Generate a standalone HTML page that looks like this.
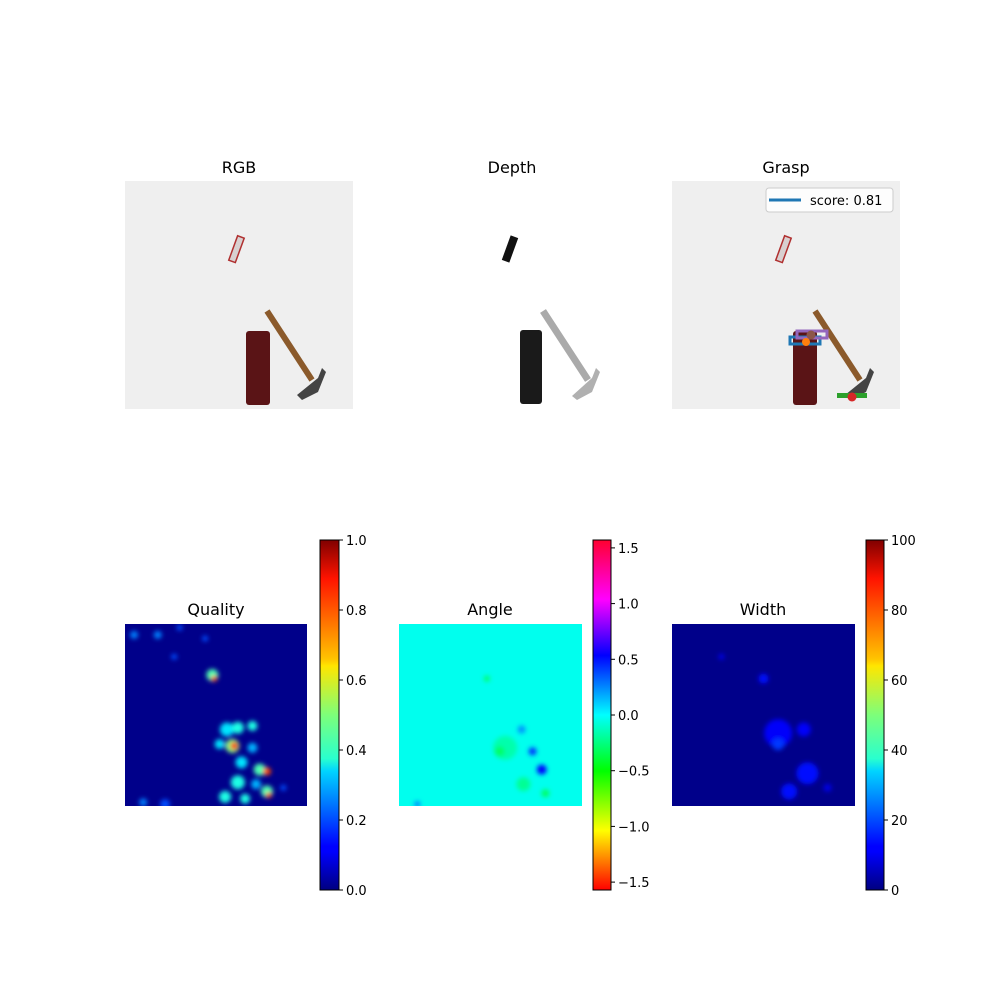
<!DOCTYPE html>
<html><head><meta charset="utf-8"><style>
body{margin:0;background:#fff;font-family:"Liberation Sans","DejaVu Sans",sans-serif}
svg text{font-family:"DejaVu Sans","Liberation Sans",sans-serif}
</style></head><body>
<svg id="fig" width="1000" height="1000" viewBox="0 0 1000 1000" xmlns="http://www.w3.org/2000/svg">
<defs>
<linearGradient id="jet" x1="0" y1="1" x2="0" y2="0">
<stop offset="0" stop-color="#000080"/><stop offset="0.11" stop-color="#0000ff"/><stop offset="0.125" stop-color="#0000ff"/>
<stop offset="0.34" stop-color="#00d4ff"/><stop offset="0.375" stop-color="#29ffce"/><stop offset="0.5" stop-color="#7dff7a"/>
<stop offset="0.64" stop-color="#ffe600"/><stop offset="0.66" stop-color="#ffc400"/><stop offset="0.89" stop-color="#ff1300"/><stop offset="1" stop-color="#800000"/>
</linearGradient>
<linearGradient id="hsv" x1="0" y1="1" x2="0" y2="0">
<stop offset="0" stop-color="#ff0000"/><stop offset="0.17" stop-color="#ffff00"/><stop offset="0.34" stop-color="#00ff00"/>
<stop offset="0.5" stop-color="#00ffff"/><stop offset="0.67" stop-color="#0000ff"/><stop offset="0.83" stop-color="#ff00ff"/><stop offset="1" stop-color="#ff0030"/>
</linearGradient>
<filter id="blur" x="-20%" y="-20%" width="140%" height="140%"><feGaussianBlur stdDeviation="2.5"/></filter>
<clipPath id="cq"><rect x="125" y="624" width="182" height="182"/></clipPath>
<clipPath id="ca"><rect x="399" y="624" width="183" height="182"/></clipPath>
<clipPath id="cw"><rect x="672" y="624" width="183" height="182"/></clipPath>
</defs>

<!-- Top row -->
<text x="239" y="173" font-size="16" text-anchor="middle">RGB</text>
<g>
<rect x="125" y="181" width="228" height="228" fill="#efefef"/>
<rect x="233" y="236" width="7" height="26" fill="#d8d0d0" stroke="#b03030" stroke-width="1.5" transform="rotate(20 236 249)"/>
<rect x="246" y="331" width="24" height="74" fill="#5a1416" rx="3"/>
<line x1="267" y1="311" x2="312" y2="380" stroke="#8b5a2b" stroke-width="6"/>
<path d="M297 395 L318 378 L322 368 L326 372 L318 392 L302 400 Z" fill="#444"/>
</g>
<text x="512" y="173" font-size="16" text-anchor="middle">Depth</text>
<g>
<rect x="506" y="236" width="8" height="26" fill="#111" transform="rotate(20 510 249)"/>
<rect x="520" y="330" width="22" height="74" fill="#1a1a1a" rx="3"/>
<line x1="543" y1="311" x2="588" y2="380" stroke="#aaa" stroke-width="7"/>
<path d="M572 396 L592 378 L596 368 L600 372 L592 392 L577 400 Z" fill="#b0b0b0"/>
</g>
<text x="786" y="173" font-size="16" text-anchor="middle">Grasp</text>
<g>
<rect x="672" y="181" width="228" height="228" fill="#efefef"/>
<rect x="780" y="236" width="7" height="26" fill="#d8d0d0" stroke="#b03030" stroke-width="1.5" transform="rotate(20 783 249)"/>
<rect x="793" y="331" width="24" height="74" fill="#5a1416" rx="3"/>
<line x1="815" y1="311" x2="860" y2="380" stroke="#8b5a2b" stroke-width="6"/>
<path d="M845 395 L866 378 L870 368 L874 372 L866 392 L850 400 Z" fill="#444"/>
<rect x="790" y="337" width="30" height="7" fill="none" stroke="#1f77b4" stroke-width="3"/>
<rect x="797" y="331" width="30" height="7" fill="none" stroke="#9467bd" stroke-width="3"/>
<rect x="837" y="393" width="30" height="5" fill="#2ca02c"/>
<circle cx="811" cy="335" r="4.5" fill="#8c564b"/><circle cx="806" cy="342" r="4" fill="#ff7f0e"/><circle cx="852" cy="397" r="4.5" fill="#d62728"/>
<g>
<rect x="766" y="188" width="127" height="24" rx="3" fill="#fff" fill-opacity="0.85" stroke="#ccc"/>
<line x1="769" y1="200" x2="801" y2="200" stroke="#1f77b4" stroke-width="3"/>
<text x="810" y="205" font-size="13">score: 0.81</text>
</g>
</g>

<!-- Bottom row -->
<text x="216" y="615" font-size="16" text-anchor="middle">Quality</text>
<g clip-path="url(#cq)"><rect x="125" y="624" width="182" height="182" fill="#00008a"/><g id="qblobs" filter="url(#blur)"></g></g>
<text x="490" y="615" font-size="16" text-anchor="middle">Angle</text>
<g clip-path="url(#ca)"><rect x="399" y="624" width="183" height="182" fill="#00ffee"/><g id="ablobs" filter="url(#blur)"></g></g>
<text x="763" y="615" font-size="16" text-anchor="middle">Width</text>
<g clip-path="url(#cw)"><rect x="672" y="624" width="183" height="182" fill="#00008a"/><g id="wblobs" filter="url(#blur)"></g></g>

<rect x="320" y="540" width="19" height="350" fill="url(#jet)" stroke="#000" stroke-width="1"/>
<rect x="593" y="540" width="18" height="350" fill="url(#hsv)" stroke="#000" stroke-width="1"/>
<rect x="866" y="540" width="18" height="350" fill="url(#jet)" stroke="#000" stroke-width="1"/>
<g id="ticks"></g>
</svg>
<script>
const qTicks=[0,0.2,0.4,0.6,0.8,1.0];
const aTicks=[-1.5,-1.0,-0.5,0.0,0.5,1.0,1.5];
const wTicks=[0,20,40,60,80,100];
// blobs: [x frac, y frac, value, radius px]
const qBlobs=[[0.05,0.06,0.25,4],[0.18,0.06,0.25,4],[0.3,0.02,0.2,3],[0.44,0.08,0.2,3],[0.27,0.18,0.2,3],
[0.48,0.28,0.45,6],[0.49,0.3,0.8,3],
[0.56,0.58,0.35,7],[0.62,0.57,0.4,6],[0.7,0.56,0.4,5],[0.52,0.66,0.35,5],
[0.59,0.67,0.5,7],[0.6,0.67,0.85,4],[0.7,0.68,0.3,5],[0.64,0.76,0.35,6],[0.74,0.8,0.45,6],[0.78,0.81,0.8,4],
[0.62,0.87,0.4,7],[0.72,0.88,0.3,5],[0.78,0.92,0.45,6],[0.79,0.94,0.8,3],[0.55,0.95,0.4,6],[0.66,0.96,0.4,5],
[0.1,0.98,0.25,4],[0.22,0.99,0.2,5],[0.87,0.9,0.2,3]];
const aBlobs=[[0.48,0.3,-0.3,3],[0.58,0.68,-0.15,12],[0.55,0.7,-0.3,5],[0.67,0.58,0.25,4],[0.73,0.7,0.45,4],[0.78,0.8,0.55,5],[0.68,0.88,-0.2,7],[0.8,0.93,-0.3,4],[0.1,0.99,0.3,3]];
const wBlobs=[[0.5,0.3,14,5],[0.58,0.6,12,14],[0.58,0.66,18,6],[0.72,0.58,12,7],[0.74,0.82,14,11],[0.64,0.92,14,8],[0.27,0.18,10,3],[0.85,0.9,10,4]];
function jet(v){v=Math.max(0,Math.min(1,v));const c=x=>Math.round(255*Math.max(0,Math.min(1,1.5-Math.abs(4*v-x))));return `rgb(${c(3)},${c(2)},${c(1)})`;}
function hsv(v){let h=((v+Math.PI/2)/Math.PI)*355; return `hsl(${h},100%,50%)`;}
const NS='http://www.w3.org/2000/svg';
function blobs(gid,arr,x0,y0,w,h,col){const g=document.getElementById(gid);arr.forEach(b=>{const c=document.createElementNS(NS,'circle');
c.setAttribute('cx',x0+b[0]*w);c.setAttribute('cy',y0+b[1]*h);c.setAttribute('r',b[3]);c.setAttribute('fill',col(b[2]));


g.appendChild(c);});}
blobs('qblobs',qBlobs,125,624,182,182,jet);
blobs('ablobs',aBlobs,399,624,183,182,hsv);
blobs('wblobs',wBlobs,672,624,183,182,v=>jet(v/100));
const T=document.getElementById('ticks');
function ticks(arr,x,lo,hi,fmt,name){arr.forEach(t=>{const y=890-(t-lo)/(hi-lo)*350;
const l=document.createElementNS(NS,'line');l.setAttribute('x1',x);l.setAttribute('x2',x+4);l.setAttribute('y1',y);l.setAttribute('y2',y);l.setAttribute('stroke','#000');


T.appendChild(l);
const s=document.createElementNS(NS,'text');s.setAttribute('x',x+7);s.setAttribute('y',y+5);s.setAttribute('font-size','13');s.textContent=fmt(t);


T.appendChild(s);});}
ticks(qTicks,339,0,1,t=>t.toFixed(1),'quality-colorbar');
ticks(aTicks,611,-Math.PI/2,Math.PI/2,t=>t.toFixed(1).replace('-','\u2212'),'angle-colorbar');
ticks(wTicks,884,0,100,t=>String(t),'width-colorbar');
</script>
</body></html>
